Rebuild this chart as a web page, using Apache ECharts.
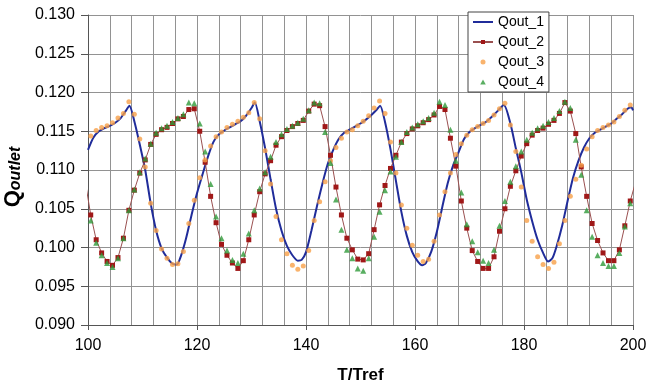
<!DOCTYPE html>
<html><head><meta charset="utf-8">
<script src="https://cdn.jsdelivr.net/npm/echarts@6/dist/echarts.min.js"></script>
<style>html,body{margin:0;padding:0;background:#fff}#c{width:647px;height:385px}</style>
</head><body><div id="c"></div>
<script>
// Sample times of the marker series (T/Tref)
const tSamples = [
 99.5,100.5,101.5,102.5,103.5,104.5,105.5,106.5,107.5,108.5,
 109.5,110.5,111.5,112.5,113.5,114.5,115.5,116.5,117.5,118.5,
 119.5,120.5,121.5,122.5,123.5,124.5,125.5,126.5,127.5,128.5,
 129.5,130.5,131.5,132.5,133.5,134.5,135.5,136.5,137.5,138.5,
 139.5,140.5,141.5,142.5,143.5,144.5,145.5,146.5,147.5,148.5,
 149.5,150.5,151.5,152.5,153.5,154.5,155.5,156.5,157.5,158.5,
 159.5,160.5,161.5,162.5,163.5,164.5,165.5,166.5,167.5,168.5,
 169.5,170.5,171.5,172.5,173.5,174.5,175.5,176.5,177.5,178.5,
 179.5,180.5,181.5,182.5,183.5,184.5,185.5,186.5,187.5,188.5,
 189.5,190.5,191.5,192.5,193.5,194.5,195.5,196.5,197.5,198.5,
 199.5,200.5];

// Qout_2 (red squares)
const qout2 = [
 0.1085,0.1042,0.1010,0.0993,0.0982,0.0977,0.0987,0.1012,0.1048,0.1074,
 0.1096,0.1113,0.1133,0.1146,0.1152,0.1155,0.1160,0.1166,0.1169,0.1178,
 0.1179,0.1150,0.1110,0.1066,0.1032,0.1004,0.0990,0.0980,0.0973,0.0983,
 0.1010,0.1042,0.1072,0.1095,0.1112,0.1132,0.1143,0.1151,0.1156,0.1160,
 0.1164,0.1176,0.1185,0.1183,0.1156,0.1119,0.1078,0.1042,0.1012,0.0997,
 0.0985,0.0984,0.0992,0.1023,0.1055,0.1080,0.1102,0.1119,0.1136,0.1147,
 0.1153,0.1157,0.1161,0.1165,0.1171,0.1182,0.1178,0.1141,0.1105,0.1060,
 0.1025,0.0996,0.0982,0.0973,0.0973,0.0988,0.1021,0.1050,0.1079,0.1099,
 0.1118,0.1134,0.1145,0.1151,0.1154,0.1159,0.1164,0.1173,0.1187,0.1176,
 0.1147,0.1104,0.1066,0.1031,0.1009,0.0993,0.0983,0.0983,0.0997,0.1028,
 0.1060,0.1085];

// Qout_3 (orange dots)
const qout3 = [
 0.1112,0.1144,0.1151,0.1155,0.1157,0.1161,0.1167,0.1173,0.1188,0.1172,
 0.1140,0.1104,0.1057,0.1022,0.0998,0.0986,0.0978,0.0979,0.0995,0.1031,
 0.1061,0.1090,0.1113,0.1131,0.1143,0.1149,0.1155,0.1159,0.1163,0.1168,
 0.1174,0.1187,0.1166,0.1125,0.1082,0.1040,0.1010,0.0992,0.0977,0.0972,
 0.0976,0.0996,0.1035,0.1059,0.1085,0.1112,0.1129,0.1141,0.1149,0.1152,
 0.1157,0.1163,0.1170,0.1180,0.1189,0.1173,0.1136,0.1096,0.1055,0.1025,
 0.1003,0.0990,0.0982,0.0985,0.1008,0.1042,0.1072,0.1096,0.1120,0.1134,
 0.1145,0.1152,0.1156,0.1160,0.1164,0.1171,0.1179,0.1186,0.1158,0.1124,
 0.1078,0.1035,0.1008,0.0988,0.0978,0.0973,0.0981,0.1005,0.1035,0.1066,
 0.1088,0.1106,0.1127,0.1143,0.1151,0.1155,0.1158,0.1162,0.1169,0.1177,
 0.1184,0.1180];

// Qout_4 (green triangles)
const qout4 = [
 0.1080,0.1035,0.1006,0.0990,0.0980,0.0975,0.0986,0.1012,0.1048,0.1075,
 0.1097,0.1115,0.1134,0.1148,0.1154,0.1157,0.1162,0.1167,0.1172,0.1187,
 0.1186,0.1160,0.1124,0.1082,0.1040,0.1012,0.0996,0.0984,0.0980,0.0992,
 0.1018,0.1048,0.1076,0.1097,0.1117,0.1136,0.1146,0.1153,0.1157,0.1161,
 0.1166,0.1177,0.1187,0.1186,0.1149,0.1109,0.1062,0.1023,0.0997,0.0986,
 0.0973,0.0970,0.0986,0.1014,0.1046,0.1074,0.1098,0.1117,0.1136,0.1149,
 0.1155,0.1159,0.1163,0.1167,0.1174,0.1188,0.1184,0.1152,0.1112,0.1071,
 0.1030,0.1008,0.0994,0.0983,0.0980,0.0997,0.1028,0.1060,0.1085,0.1105,
 0.1124,0.1139,0.1148,0.1154,0.1157,0.1162,0.1167,0.1176,0.1188,0.1180,
 0.1139,0.1094,0.1048,0.1014,0.0990,0.0980,0.0976,0.0976,0.0993,0.1027,
 0.1057,0.1080];

// Qout_1 (blue line) sample times and values
const blueT = [
 100,101,102,103,104,105,106,107,107.6,108.5,109.5,110.5,111.5,112.5,113.5,114.5,115.5,116.3,
 117,118,119,120,121,122,123,124,125,126,127,128,129,130,130.6,131.5,132.5,133.5,134.5,135.5,
 136.5,137.5,138.5,139.2,140,141,142,143,144,145,146,147,148,149,150,151,152,153,153.6,154.5,
 155.5,156.5,157.5,158.5,159.5,160.5,161.3,162,163,164,165,166,167,168,169,170,171,172,173,174,
 175,176.3,177.5,178.5,179.5,180.5,181.5,182.5,183.5,184.4,185.2,186,187,188,189,190,191,192,
 193,194,195,196,197,198,199,199.7,200];
const blueV = [
 0.1126,0.1142,0.1150,0.1154,0.1157,0.1161,0.1167,0.1177,0.1183,0.1163,0.1133,0.1100,0.1057,0.1022,0.0999,0.0987,0.0979,0.0978,
 0.0988,0.1012,0.1042,0.1070,0.1094,0.1117,0.1136,0.1146,0.1151,0.1155,0.1159,0.1163,0.1170,0.1180,0.1187,0.1163,0.1128,0.1088,0.1050,0.1022,
 0.1002,0.0990,0.0983,0.0984,0.0994,0.1022,0.1053,0.1082,0.1108,0.1126,0.1140,0.1148,0.1152,0.1156,0.1160,0.1165,0.1171,0.1178,0.1183,0.1162,
 0.1127,0.1086,0.1046,0.1015,0.0994,0.0982,0.0977,0.0980,0.0995,0.1020,0.1052,0.1083,0.1106,0.1123,0.1140,0.1149,0.1154,0.1158,0.1162,0.1168,
 0.1175,0.1184,0.1160,0.1128,0.1097,0.1062,0.1034,0.1010,0.0993,0.0982,0.0986,0.1002,0.1028,0.1060,0.1090,0.1112,0.1129,0.1141,
 0.1148,0.1152,0.1156,0.1160,0.1166,0.1172,0.1179,0.1181,0.1177];

const seriesNames = ['Qout_1','Qout_2','Qout_3','Qout_4'];
const xLabelValues = [100,120,140,160,180,200];

const FONT = '"Liberation Sans", Arial, sans-serif';
const pair = (ts, vs) => ts.map((t, i) => [t, vs[i]]);

const BLUE = '#202C9A', RED = '#A01818', ORANGE = '#F7A048', GREEN = '#2F9A3A';

const chart = echarts.init(document.getElementById('c'), null, {renderer: 'canvas'});
chart.setOption({
  animation: false,
  backgroundColor: '#fff',
  grid: {left: 88, right: 14, top: 15, bottom: 60, containLabel: false, outerBoundsMode: 'none'},
  legend: {
    data: [
      {name: seriesNames[0], icon: 'path://M0,0H40V4H0Z'},
      {name: seriesNames[1]},
      {name: seriesNames[2], icon: 'circle'},
      {name: seriesNames[3], icon: 'path://M5,0L10,9L0,9Z'}
    ],
    orient: 'vertical',
    left: 468, top: 12,
    padding: [3, 5, 3, 4],
    itemGap: 6,
    itemWidth: 20, itemHeight: 5,
    symbolKeepAspect: true,
    borderColor: '#444', borderWidth: 1,
    backgroundColor: '#fff',
    textStyle: {fontFamily: FONT, fontSize: 14, color: '#000', lineHeight: 14}
  },
  xAxis: {
    type: 'value', min: 100, max: 200, interval: 20,
    axisLine: {lineStyle: {color: '#555', width: 1}},
    axisTick: {show: true, length: 5, lineStyle: {color: '#555'}},
    axisLabel: {fontFamily: FONT, fontSize: 16, color: '#000', margin: 13,
      formatter: v => xLabelValues.includes(v) ? String(v) : ''},
    splitLine: {show: true, lineStyle: {color: '#929292', width: 1}},
    minorTick: {show: false, splitNumber: 5},
    minorSplitLine: {show: true, lineStyle: {color: '#929292', width: 1}},
    name: 'T/Tref', nameLocation: 'middle', nameGap: 42,
    nameTextStyle: {fontFamily: FONT, fontSize: 17, fontWeight: 'bold', color: '#000'}
  },
  yAxis: {
    type: 'value', min: 0.09, max: 0.13, interval: 0.005,
    axisLine: {show: true, lineStyle: {color: '#555', width: 1}},
    axisTick: {show: true, length: 7, lineStyle: {color: '#555'}},
    axisLabel: {fontFamily: FONT, fontSize: 16, color: '#000', margin: 13,
      formatter: v => v.toFixed(3)},
    splitLine: {show: true, lineStyle: {color: '#929292', width: 1}},
    name: '{q|Q}{s|outlet}', nameLocation: 'middle', nameGap: 58,
    nameTextStyle: {
      rich: {
        q: {fontFamily: FONT, fontSize: 22, fontWeight: 'bold', color: '#000'},
        s: {fontFamily: FONT, fontSize: 16, fontWeight: 'bold', fontStyle: 'italic', color: '#000', padding: [5, 14, 0, 0]}
      }
    }
  },
  series: [
    {name: seriesNames[0], type: 'line', data: pair(blueT, blueV), showSymbol: false, symbol: 'none',
     smooth: 0.25, lineStyle: {color: BLUE, width: 2}, itemStyle: {color: BLUE}, z: 2},
    {name: seriesNames[1], type: 'line', data: pair(tSamples, qout2), symbol: 'rect', symbolSize: 5, showAllSymbol: true,
     lineStyle: {color: '#9A5050', width: 1}, itemStyle: {color: RED}, z: 3},
    {name: seriesNames[2], type: 'scatter', data: pair(tSamples, qout3), symbol: 'circle', symbolSize: 5,
     itemStyle: {color: ORANGE}, z: 4},
    {name: seriesNames[3], type: 'scatter', data: pair(tSamples, qout4), symbol: 'triangle', symbolSize: 6,
     itemStyle: {color: GREEN}, z: 5}
  ]
});
</script></body></html>
